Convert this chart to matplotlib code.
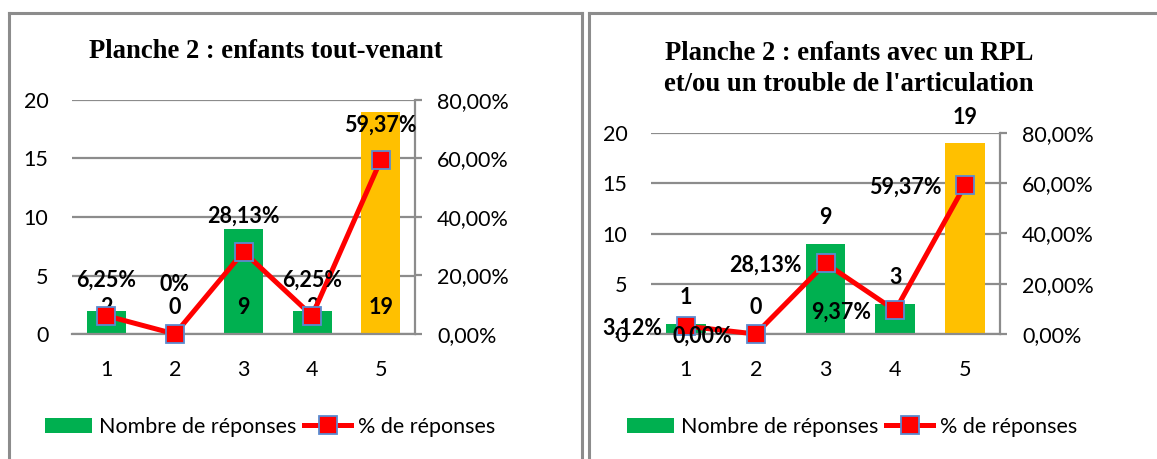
import matplotlib
matplotlib.use("Agg")
import matplotlib.pyplot as plt
from matplotlib.lines import Line2D
from matplotlib.patches import Patch
from matplotlib.ticker import FuncFormatter, FixedLocator

# ---------------- data ----------------
categories = [1, 2, 3, 4, 5]
counts_tv = [2, 0, 9, 2, 19]
pct_tv = [0.0625, 0.0, 0.2813, 0.0625, 0.5937]
pct_labels_tv = ["6,25%", "0%", "28,13%", "6,25%", "59,37%"]

counts_rpl = [1, 0, 9, 3, 19]
pct_rpl = [0.0312, 0.0, 0.2813, 0.0937, 0.5937]
pct_labels_rpl = ["3,12%", "0,00%", "28,13%", "9,37%", "59,37%"]

count_ticks = [0, 5, 10, 15, 20]
pct_ticks = [0.0, 0.2, 0.4, 0.6, 0.8]

title_tv = "Planche 2 : enfants tout-venant"
title_rpl = "Planche 2 : enfants avec un RPL\net/ou un trouble de l'articulation"
legend_bar = "Nombre de réponses"
legend_line = "% de réponses"

# ---------------- style ----------------
GREEN = "#00B050"
GOLD = "#FFC000"
RED = "#FF0000"
EDGE = "#5B8BD0"
GRID = "#8C8C8C"
bar_colors = [GREEN, GREEN, GREEN, GREEN, GOLD]
FONT = "Lato"
TFS = 15.5

W, H = 1157, 459
fig = plt.figure(figsize=(W / 100, H / 100), dpi=100)


def fx(px):
    return px / W


def fy(py):
    return 1 - py / H


def pct_fmt(v, _):
    return ("%.2f%%" % (v * 100)).replace(".", ",")


def make_chart(left, right, top, bottom, counts, pcts, pct_labels):
    ax = fig.add_axes([fx(left), fy(bottom), fx(right - left), (bottom - top) / H])
    ax2 = ax.twinx()
    ax.set_zorder(1)
    ax2.set_zorder(2)
    ax.patch.set_visible(False)
    ax2.patch.set_visible(False)

    ax.bar(categories, counts, width=0.57, color=bar_colors, zorder=2)
    ax.set_xlim(0.5, 5.5)
    ax.set_ylim(0, 20)
    ax.yaxis.set_major_locator(FixedLocator(count_ticks))
    ax.set_xticks(categories)
    ax.grid(axis="y", color=GRID, linewidth=1.6, zorder=0)
    ax.set_axisbelow(True)
    for s in ["top", "left", "right"]:
        ax.spines[s].set_visible(False)
    ax.spines["bottom"].set_color(GRID)
    ax.spines["bottom"].set_linewidth(1.6)
    ax.tick_params(axis="y", length=0, pad=17, labelsize=TFS)
    ax.tick_params(axis="x", length=0, pad=19, labelsize=TFS)

    ax2.plot(categories, pcts, color=RED, linewidth=3.6, marker="s",
             markersize=12.5, markerfacecolor=RED, markeredgecolor=EDGE,
             markeredgewidth=1.3, zorder=5, clip_on=False)
    ax2.set_ylim(0, 0.8)
    ax2.yaxis.set_major_locator(FixedLocator(pct_ticks))
    ax2.yaxis.set_major_formatter(FuncFormatter(pct_fmt))
    for s in ["top", "left", "bottom"]:
        ax2.spines[s].set_visible(False)
    ax2.spines["right"].set_color(GRID)
    ax2.spines["right"].set_linewidth(1.6)
    ax2.tick_params(axis="y", length=5, width=1.6, color=GRID, pad=11,
                    labelsize=TFS)
    for lab in ax.get_xticklabels() + ax.get_yticklabels() + ax2.get_yticklabels():
        lab.set_fontfamily(FONT)
    return ax, ax2


def panel_border(x0, x1, y0, right_side=True):
    kw = dict(color="#8C8C8C", linewidth=2.2, transform=fig.transFigure)
    fig.add_artist(Line2D([fx(x0), fx(x0)], [fy(y0), 0], **kw))
    fig.add_artist(Line2D([fx(x0), fx(x1)], [fy(y0), fy(y0)], **kw))
    if right_side:
        fig.add_artist(Line2D([fx(x1), fx(x1)], [fy(y0), 0], **kw))


def add_legend(cx, cy):
    handles = [
        Patch(facecolor=GREEN, edgecolor="none"),
        Line2D([0], [0], color=RED, linewidth=3.6, marker="s", markersize=12.5,
               markerfacecolor=RED, markeredgecolor=EDGE, markeredgewidth=1.3),
    ]
    fig.legend(handles, [legend_bar, legend_line], loc="center",
               bbox_to_anchor=(fx(cx), fy(cy)), ncol=2, frameon=False,
               handlelength=2.2, handleheight=0.7, handletextpad=0.3,
               columnspacing=0.35, prop={"family": FONT, "size": TFS})


lbl = dict(fontfamily=FONT, fontsize=TFS, fontweight="bold", color="black",
           zorder=10)
TITLE_FS = 19.2

# ---------------- left chart ----------------
panel_border(9, 582, 13)
axL, axL2 = make_chart(72, 415, 100, 334, counts_tv, pct_tv, pct_labels_tv)
fig.text(fx(266), fy(52), title_tv, ha="center", va="center",
         fontfamily="Liberation Serif", fontweight="bold", fontsize=TITLE_FS)
for c, n in zip(categories, counts_tv):
    axL.annotate(str(n), (c, 0), xytext=(0, 26), textcoords="offset pixels",
                 ha="center", va="center", **lbl)
left_offsets = [36, 49, 36, 36, 35]
for c, p, t, dy in zip(categories, pct_tv, pct_labels_tv, left_offsets):
    axL2.annotate(t, (c, p), xytext=(0, dy), textcoords="offset pixels",
                  ha="center", va="center", **lbl)
add_legend(270, 427)

# ---------------- right chart ----------------
panel_border(589, 1157, 13, right_side=False)
axR, axR2 = make_chart(651, 1000, 133, 334, counts_rpl, pct_rpl, pct_labels_rpl)
fig.text(fx(849), fy(69), title_rpl, ha="center", va="center",
         fontfamily="Liberation Serif", fontweight="bold", fontsize=TITLE_FS,
         linespacing=1.33)
for c, n in zip(categories, counts_rpl):
    axR.annotate(str(n), (c, n), xytext=(0, 26), textcoords="offset pixels",
                 ha="center", va="center", **lbl)
for c, p, t in zip(categories, pct_rpl, pct_labels_rpl):
    axR2.annotate(t, (c, p), xytext=(-24, -2), textcoords="offset pixels",
                  ha="right", va="center", **lbl)
add_legend(852, 427)

fig.savefig("out.png", dpi=100)
